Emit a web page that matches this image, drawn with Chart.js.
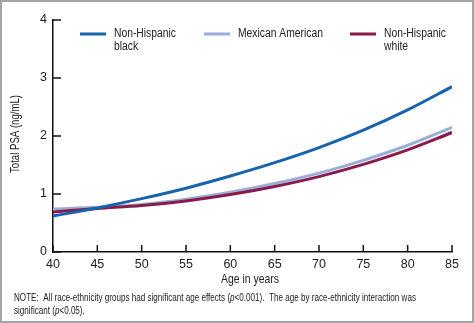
<!DOCTYPE html>
<html>
<head>
<meta charset="utf-8">
<script src="https://cdn.jsdelivr.net/npm/chart.js@4"></script>
<style>
  html, body { margin: 0; padding: 0; background: #fff; }
  #wrap { width: 474px; height: 323px; }
</style>
</head>
<body>
<div id="wrap"><canvas id="psaChart" width="474" height="323"></canvas></div>
<script>
// Age points (years) and fitted total PSA (ng/mL) for each group
const ages = [40, 45, 50, 55, 60, 65, 70, 75, 80, 85];
const nhBlack = [0.62, 0.76, 0.92, 1.10, 1.31, 1.54, 1.80, 2.10, 2.45, 2.85];
const mexAmerican = [0.74, 0.77, 0.82, 0.91, 1.03, 1.18, 1.36, 1.58, 1.84, 2.15];
const nhWhite = [0.69, 0.75, 0.80, 0.88, 0.99, 1.13, 1.30, 1.51, 1.76, 2.06];
const xTicks = [40, 45, 50, 55, 60, 65, 70, 75, 80, 85];
const yTicks = [0, 1, 2, 3, 4];

const FONT = '"Liberation Sans", Arial, Helvetica, sans-serif';
const BLUE = "#1763ad";
const LIGHT = "#9badd9";
const MAROON = "#8a1a4a";
const TEXT = "#222";

function toPoints(vals) {
    return ages.map((a, i) => ({ x: a, y: vals[i] }));
}

// legend entries drawn inside the plot, top row
const legendItems = [
    { color: BLUE, x: 80, lines: ["Non-Hispanic", "black"] },
    { color: LIGHT, x: 204, lines: ["Mexican American"] },
    { color: MAROON, x: 350, lines: ["Non-Hispanic", "white"] }
];

function runsWidth(ctx, runs, size) {
    let w = 0;
    runs.forEach(([t, it]) => {
        ctx.font = (it ? "italic " : "") + size + "px " + FONT;
        w += ctx.measureText(t).width;
    });
    return w;
}

// draw runs of [text, italic], squeezed horizontally by factor k
function drawRuns(ctx, runs, x, y, size, k) {
    ctx.save();
    ctx.translate(x, y);
    ctx.scale(k, 1);
    let cx = 0;
    runs.forEach(([t, it]) => {
        ctx.font = (it ? "italic " : "") + size + "px " + FONT;
        ctx.fillText(t, cx, 0);
        cx += ctx.measureText(t).width;
    });
    ctx.restore();
}

const extras = {
    id: "extras",
    afterDraw(chart) {
        const ctx = chart.ctx;
        const xs = chart.scales.x, ys = chart.scales.y;
        ctx.save();

        // inward tick marks
        ctx.strokeStyle = "#111";
        ctx.lineWidth = 1.5;
        xTicks.forEach(v => {
            const px = xs.getPixelForValue(v);
            ctx.beginPath();
            ctx.moveTo(px, ys.bottom);
            ctx.lineTo(px, ys.bottom - 7);
            ctx.stroke();
        });
        yTicks.forEach(v => {
            const py = ys.getPixelForValue(v);
            ctx.beginPath();
            ctx.moveTo(xs.left, py);
            ctx.lineTo(xs.left + 8, py);
            ctx.stroke();
        });

        // legend
        ctx.fillStyle = TEXT;
        ctx.textBaseline = "middle";
        ctx.textAlign = "left";
        legendItems.forEach(item => {
            ctx.strokeStyle = item.color;
            ctx.lineWidth = 3;
            ctx.beginPath();
            ctx.moveTo(item.x, 34);
            ctx.lineTo(item.x + 26, 34);
            ctx.stroke();
            item.lines.forEach((t, i) => drawRuns(ctx, [[t, false]], item.x + 34, 34 + i * 13, 12, 0.86));
        });

        // axis titles
        const xTitle = [["Age in years", false]];
        drawRuns(ctx, xTitle, 221, 279, 13, 58 / runsWidth(ctx, xTitle, 13));
        const yTitle = [["Total PSA (ng/mL)", false]];
        ctx.save();
        ctx.translate(16, 173);
        ctx.rotate(-Math.PI / 2);
        drawRuns(ctx, yTitle, 0, 0, 12.5, 78 / runsWidth(ctx, yTitle, 12.5));
        ctx.restore();

        // footnote
        const line1 = [["NOTE:  All race-ethnicity groups had significant age effects (", false], ["p", true],
            ["<0.001).  The age by race-ethnicity interaction was", false]];
        const line2 = [["significant (", false], ["p", true], ["<0.05).", false]];
        const k = 402 / runsWidth(ctx, line1, 10.5);
        drawRuns(ctx, line1, 14, 298, 10.5, k);
        drawRuns(ctx, line2, 14, 311, 10.5, k);

        // grey frame
        ctx.fillStyle = "#a3a3a3";
        ctx.fillRect(0, 0, 474, 2);
        ctx.fillRect(0, 0, 2, 323);
        ctx.fillRect(472, 0, 2, 323);
        ctx.fillRect(0, 321, 474, 2);
        ctx.restore();
    }
};

new Chart(document.getElementById("psaChart"), {
    type: "line",
    data: {
        datasets: [
            { label: "Non-Hispanic black", data: toPoints(nhBlack), borderColor: BLUE, order: 1 },
            { label: "Mexican American", data: toPoints(mexAmerican), borderColor: LIGHT, order: 3 },
            { label: "Non-Hispanic white", data: toPoints(nhWhite), borderColor: MAROON, order: 2 }
        ]
    },
    options: {
        responsive: false,
        animation: false,
        layout: { padding: { top: 20, right: 22, left: 0, bottom: 0 } },
        elements: {
            point: { radius: 0 },
            line: { borderWidth: 3, cubicInterpolationMode: "monotone", fill: false }
        },
        plugins: { legend: { display: false }, tooltip: { enabled: false } },
        scales: {
            x: {
                type: "linear",
                min: 40,
                max: 85,
                afterFit: s => { s.height = 71; },
                afterBuildTicks: s => { s.ticks = xTicks.map(v => ({ value: v })); },
                ticks: { color: TEXT, padding: 5, maxRotation: 0, font: { family: FONT, size: 12.5 } },
                grid: { display: true, drawOnChartArea: false, drawTicks: false },
                border: { display: true, color: "#111", width: 1.5 }
            },
            y: {
                type: "linear",
                min: 0,
                max: 4,
                afterFit: s => { s.width = 53; },
                afterBuildTicks: s => { s.ticks = yTicks.map(v => ({ value: v })); },
                ticks: { color: TEXT, padding: 6, font: { family: FONT, size: 12.5 } },
                grid: { display: true, drawOnChartArea: false, drawTicks: false },
                border: { display: true, color: "#111", width: 1.5 }
            }
        }
    },
    plugins: [extras]
});
</script>
</body>
</html>
